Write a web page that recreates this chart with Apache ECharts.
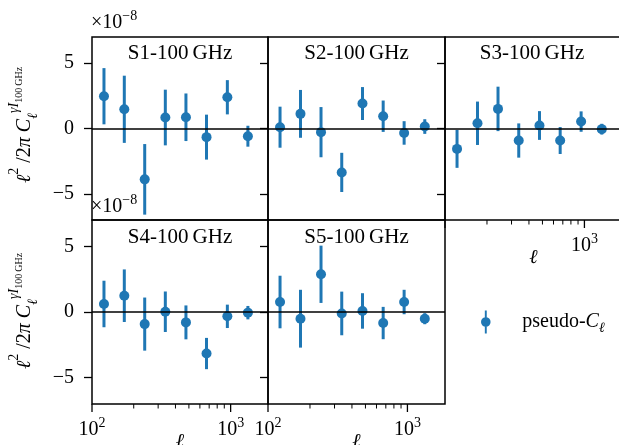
<!DOCTYPE html>
<html>
<head>
<meta charset="utf-8">
<script src="https://cdn.jsdelivr.net/npm/echarts@6/dist/echarts.min.js"></script>
<style>
  html, body { margin: 0; padding: 0; background: #fff; }
  #chart { width: 619px; height: 445px; }
</style>
</head>
<body>
<div id="chart"></div>
<script>
// bin centres in multipole
const ell = [122, 171, 240, 338, 476, 670, 947, 1332];

// band powers, in units of 1e-8, with 1-sigma errors
const s1Val = [2.47, 1.47, -3.89, 0.84, 0.86, -0.66, 2.39, -0.59];
const s1Err = [2.15, 2.57, 2.70, 2.13, 1.82, 1.72, 1.31, 0.80];
const s2Val = [0.10, 1.12, -0.28, -3.36, 1.91, 0.94, -0.34, 0.15];
const s2Err = [1.57, 1.83, 1.92, 1.50, 1.26, 1.20, 0.90, 0.56];
const s3Val = [-1.56, 0.40, 1.50, -0.92, 0.23, -0.92, 0.53, -0.05];
const s3Err = [1.45, 1.66, 1.70, 1.31, 1.10, 1.03, 0.78, 0.41];
const s4Val = [0.61, 1.24, -0.92, 0.02, -0.79, -3.16, -0.33, -0.05];
const s4Err = [1.77, 2.00, 2.02, 1.54, 1.29, 1.19, 0.89, 0.51];
const s5Val = [0.76, -0.51, 2.87, -0.11, 0.08, -0.84, 0.76, -0.51];
const s5Err = [2.00, 2.20, 2.18, 1.66, 1.35, 1.23, 0.93, 0.42];

const panelNames = ['S1-100\u2009GHz', 'S2-100\u2009GHz', 'S3-100\u2009GHz', 'S4-100\u2009GHz', 'S5-100\u2009GHz'];
const yTicks = [-5, 0, 5];
const xMajor = [100, 1000];
const xMinor = [200, 300, 400, 500, 600, 700, 800, 900];
const SERIES_NAME = 'pseudo-C\u2113';

const FONT = 'Liberation Serif';
const BLUE = '#1f77b4';
const X_MIN = 100, X_MAX = 1860;
const Y_MIN = -7, Y_MAX = 7;
const lg = v => Math.log10(v);

const panels = [
  { val: s1Val, err: s1Err },
  { val: s2Val, err: s2Err },
  { val: s3Val, err: s3Err },
  { val: s4Val, err: s4Err },
  { val: s5Val, err: s5Err }
];

const grids = [
  { left: 92, top: 37, width: 176, height: 183 },
  { left: 268, top: 37, width: 177, height: 183 },
  { left: 445, top: 37, width: 177, height: 183 },
  { left: 92, top: 220, width: 176, height: 184 },
  { left: 268, top: 220, width: 177, height: 184 }
];
const xTickShown = [false, false, true, true, true];
const xLabelVals = [[], [], [1000], [100, 1000], [100, 1000]];

const tickLine = { color: '#000', width: 1.3 };
const supRich = {
  b: { fontFamily: FONT, fontSize: 20, color: '#000', lineHeight: 28 },
  p: { fontFamily: FONT, fontSize: 14, color: '#000', verticalAlign: 'top', lineHeight: 14 }
};

const xAxes = [];
const yAxes = [];
const series = [];

grids.forEach((g, i) => {
  xAxes.push({
    gridIndex: i, type: 'value', position: 'bottom', min: lg(X_MIN), max: lg(X_MAX),
    axisLine: { show: false, onZero: false }, splitLine: { show: false },
    axisTick: { show: false },
    axisLabel: {
      show: xLabelVals[i].length > 0,
      customValues: xLabelVals[i].length ? xLabelVals[i].map(lg) : [2],
      margin: 12,
      formatter: v => '{b|10}{p|' + Math.round(v) + '}',
      rich: supRich
    },
    name: xTickShown[i] ? '\u2113' : '',
    nameLocation: 'middle', nameGap: 28, nameMoveOverlap: false,
    nameTextStyle: { fontFamily: FONT, fontSize: 20, fontStyle: 'italic', color: '#000' }
  });
  yAxes.push({
    gridIndex: i, type: 'value', position: 'left', min: Y_MIN, max: Y_MAX,
    axisLine: { show: false, onZero: false }, splitLine: { show: false },
    axisTick: { show: true, customValues: yTicks, length: 8, lineStyle: tickLine },
    axisLabel: {
      show: i === 0 || i === 3, customValues: yTicks, margin: 18,
      fontFamily: FONT, fontSize: 20, color: '#000',
      formatter: v => (v < 0 ? '\u2212' + Math.abs(v) : String(v))
    }
  });
});

panels.forEach((p, i) => {
  series.push({
    type: 'custom', xAxisIndex: i, yAxisIndex: i, z: 2,
    data: ell.map((l, k) => [lg(l), p.val[k] - p.err[k], p.val[k] + p.err[k]]),
    encode: { x: 0, y: [1, 2] },
    renderItem: (params, api) => {
      const a = api.coord([api.value(0), api.value(1)]);
      const b = api.coord([api.value(0), api.value(2)]);
      return {
        type: 'line',
        shape: { x1: a[0], y1: a[1], x2: b[0], y2: b[1] },
        style: { stroke: BLUE, lineWidth: 3 }
      };
    }
  });
  series.push({
    type: 'scatter', name: SERIES_NAME, xAxisIndex: i, yAxisIndex: i, z: 3,
    symbolSize: 10, itemStyle: { color: BLUE, opacity: 1 },
    data: ell.map((l, k) => [lg(l), p.val[k]]),
    markLine: {
      silent: true, symbol: ['none', 'none'], label: { show: false },
      lineStyle: { color: '#000', width: 1.6, type: 'solid' },
      data: [{ yAxis: 0 }]
    }
  });
  // log-axis tick marks (major and minor) below the panels that carry an x axis
  if (xTickShown[i]) {
    series.push({
      type: 'custom', xAxisIndex: i, yAxisIndex: i, z: 4, silent: true, clip: false,
      data: xMajor.map(v => [lg(v), Y_MIN, 1]).concat(xMinor.map(v => [lg(v), Y_MIN, 0])),
      encode: { x: 0, y: 1 },
      renderItem: (params, api) => {
        const p0 = api.coord([api.value(0), api.value(1)]);
        const major = api.value(2) === 1;
        return {
          type: 'line',
          shape: { x1: p0[0], y1: p0[1], x2: p0[0], y2: p0[1] + (major ? 8 : 4.5) },
          style: { stroke: '#000', lineWidth: major ? 1.3 : 1 }
        };
      }
    });
  }
});

const titleCentres = [[180, 53], [356.5, 53], [532, 53], [180, 237], [356.5, 237]];

const yLabelRich = {
  n: { fontFamily: FONT, fontSize: 20, color: '#000', lineHeight: 36 },
  i: { fontFamily: FONT, fontSize: 20, fontStyle: 'italic', color: '#000', lineHeight: 36 },
  p: { fontFamily: FONT, fontSize: 14, color: '#000', verticalAlign: 'top', lineHeight: 14 },
  pi: { fontFamily: FONT, fontSize: 14, fontStyle: 'italic', color: '#000', verticalAlign: 'top', lineHeight: 14 },
  sb: { fontFamily: FONT, fontSize: 14, fontStyle: 'italic', color: '#000', verticalAlign: 'bottom', lineHeight: 14, padding: [0, 0, 3, 0] },
  pp: { fontFamily: FONT, fontSize: 10, color: '#000', verticalAlign: 'top', lineHeight: 10, padding: [7, 0, 0, 0] }
};
const yLabelText = '{i|\u2113}{p|2}{n| /2}{i|\u03c0}{n| }{i|C}{sb|\u2113}{pi|\u03b3I}{pp|100\u2009GHz}';

const graphic = [];
titleCentres.forEach((c, i) => {
  graphic.push({
    type: 'text', x: c[0], y: c[1], z: 10,
    style: { text: panelNames[i], fontFamily: FONT, fontSize: 21, fill: '#000', align: 'center', verticalAlign: 'middle' }
  });
});
[[25, 125], [25, 311]].forEach(c => {
  graphic.push({
    type: 'text', x: c[0], y: c[1], rotation: Math.PI / 2, z: 10,
    style: { text: yLabelText, rich: yLabelRich, fontFamily: FONT, fontSize: 20, fill: '#000', align: 'center', verticalAlign: 'middle' }
  });
});
[[91, 23], [91, 207]].forEach(c => {
  graphic.push({
    type: 'text', x: c[0], y: c[1], z: 10,
    style: {
      text: '{b|\u00d710}{p|\u22128}', align: 'left', verticalAlign: 'middle',
      rich: {
        b: { fontFamily: FONT, fontSize: 20, color: '#000', lineHeight: 27 },
        p: { fontFamily: FONT, fontSize: 14, color: '#000', verticalAlign: 'top', lineHeight: 14 }
      }
    }
  });
});

const chart = echarts.init(document.getElementById('chart'), null, { renderer: 'canvas' });
chart.setOption({
  animation: false,
  backgroundColor: '#fff',
  grid: grids.map(g => Object.assign({
    show: true, borderColor: '#000', borderWidth: 1.5, backgroundColor: 'transparent',
    containLabel: false, outerBoundsMode: 'none'
  }, g)),
  xAxis: xAxes,
  yAxis: yAxes,
  legend: {
    selectedMode: false,
    left: 476, top: 304,
    itemWidth: 11, itemHeight: 23,
    data: [{ name: SERIES_NAME, icon: 'path://M4,0L6,0L6,24L4,24Z M10,12A5,5,0,1,1,0,12A5,5,0,1,1,10,12Z' }],
    formatter: () => '{sp|}pseudo-{c|C}{s|\u2113}',
    textStyle: {
      fontFamily: FONT, fontSize: 20, color: '#000', lineHeight: 26,
      rich: {
        sp: { width: 26 },
        c: { fontFamily: FONT, fontSize: 20, fontStyle: 'italic', color: '#000', lineHeight: 26 },
        s: { fontFamily: FONT, fontSize: 14, fontStyle: 'italic', color: '#000', verticalAlign: 'bottom', lineHeight: 14 }
      }
    }
  },
  graphic: graphic,
  series: series
});
</script>
</body>
</html>
